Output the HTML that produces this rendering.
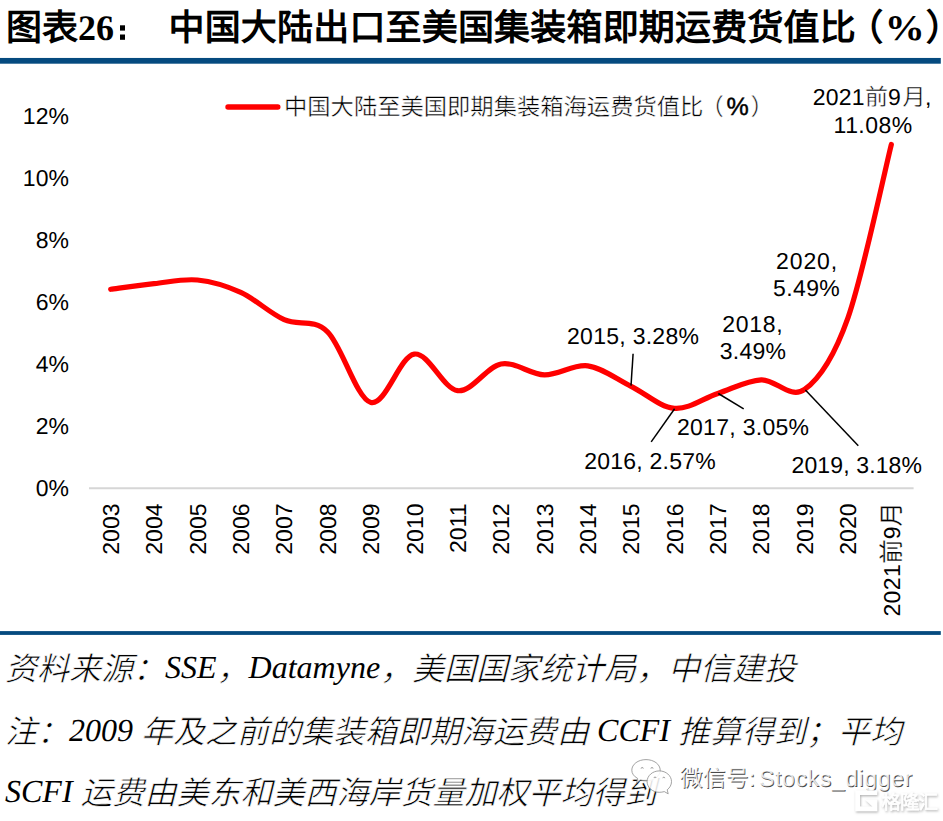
<!DOCTYPE html>
<html lang="zh-CN">
<head>
<meta charset="utf-8">
<style>
html,body{margin:0;padding:0;background:#fff;font-family:"Liberation Sans",sans-serif;}
body{width:943px;height:821px;overflow:hidden;position:relative;}
svg{position:absolute;left:0;top:0;}
.s{font-family:"Liberation Sans",sans-serif;}
.r{font-family:"Liberation Serif",serif;}
.c{stroke:#fff;stroke-width:0.65px;baseline-shift:-1.5px;}
</style>
</head>
<body>
<svg text-rendering="geometricPrecision" width="943" height="821" viewBox="0 0 943 821">
<!-- title -->
<g class="s" font-weight="bold" font-size="36" fill="#000">
<text x="6" y="40">图表<tspan class="r">26</tspan></text>
<rect x="120" y="25.3" width="5" height="5.3"/><rect x="120" y="34.5" width="5" height="5.3"/>
<text x="168.5" y="40" letter-spacing="0.18">中国大陆出口至美国集装箱即期运费货值比</text>
<text x="847.3" y="40">（</text>
<text class="r" transform="translate(884.8,40) scale(1.11,1)">%</text>
<text x="925.7" y="40">）</text>
</g>
<rect x="0" y="57.95" width="940.8" height="5.75" fill="#054a7f"/>
<rect x="0" y="631.1" width="940.8" height="3.8" fill="#054a7f"/>

<!-- axis -->
<line x1="89" y1="488.2" x2="913.6" y2="488.2" stroke="#d6d6d6" stroke-width="2"/>

<g class="s" font-size="23" fill="#000" text-anchor="end">
<text x="68.9" y="124">12%</text>
<text x="68.9" y="186">10%</text>
<text x="68.9" y="248">8%</text>
<text x="68.9" y="310">6%</text>
<text x="68.9" y="372">4%</text>
<text x="68.9" y="434">2%</text>
<text x="68.9" y="496">0%</text>
</g>

<g class="s" font-size="23" fill="#000" text-anchor="end">
<text transform="translate(118.9,503.5) rotate(-90)">2003</text>
<text transform="translate(162.3,503.5) rotate(-90)">2004</text>
<text transform="translate(205.6,503.5) rotate(-90)">2005</text>
<text transform="translate(249.0,503.5) rotate(-90)">2006</text>
<text transform="translate(292.4,503.5) rotate(-90)">2007</text>
<text transform="translate(335.7,503.5) rotate(-90)">2008</text>
<text transform="translate(379.1,503.5) rotate(-90)">2009</text>
<text transform="translate(422.5,503.5) rotate(-90)">2010</text>
<text transform="translate(465.8,503.5) rotate(-90)">2011</text>
<text transform="translate(509.2,503.5) rotate(-90)">2012</text>
<text transform="translate(552.6,503.5) rotate(-90)">2013</text>
<text transform="translate(595.9,503.5) rotate(-90)">2014</text>
<text transform="translate(639.3,503.5) rotate(-90)">2015</text>
<text transform="translate(682.7,503.5) rotate(-90)">2016</text>
<text transform="translate(726.0,503.5) rotate(-90)">2017</text>
<text transform="translate(769.4,503.5) rotate(-90)">2018</text>
<text transform="translate(812.8,503.5) rotate(-90)">2019</text>
<text transform="translate(856.1,503.5) rotate(-90)">2020</text>
<text transform="translate(899.5,502) rotate(-90)"><tspan letter-spacing="0.4">2021</tspan><tspan font-size="24.5" stroke="#fff" stroke-width="0.25">前</tspan>9<tspan font-size="24.5" stroke="#fff" stroke-width="0.25">月</tspan></text>
</g>

<!-- legend -->
<line x1="228" y1="107" x2="277.8" y2="107" stroke="#ff0000" stroke-width="5.4" stroke-linecap="round"/>
<text class="s" x="284" y="114.8" font-size="23.3" fill="#000" stroke="#fff" stroke-width="0.45">中国大陆至美国即期集装箱海运费货值比</text><text class="s" x="700.6" y="114.8" font-size="23.3" stroke="#fff" stroke-width="0.45">（</text><text class="s" x="726.4" y="115" font-size="25" stroke="#000" stroke-width="0.45">%</text><text class="s" x="750.5" y="114.8" font-size="23.3" stroke="#fff" stroke-width="0.45">）</text>

<!-- series -->
<path fill="none" stroke="#ff0000" stroke-width="5.2" stroke-linecap="round" stroke-linejoin="round" d="M110.68,289.29 C117.91,288.36 139.60,285.26 154.05,283.71 C168.51,282.16 182.96,278.54 197.42,279.99 C211.88,281.44 226.33,285.78 240.79,292.39 C255.25,299.00 269.70,313.11 284.16,319.67 C298.61,326.23 313.07,317.96 327.53,331.76 C341.98,345.56 356.44,398.72 370.89,402.44 C385.35,406.16 399.81,356.04 414.26,354.08 C428.72,352.12 443.18,389.01 457.63,390.66 C472.09,392.31 486.54,366.63 501.00,364.00 C515.46,361.37 529.91,374.54 544.37,374.85 C558.82,375.16 573.28,363.95 587.74,365.86 C602.19,367.77 616.65,379.24 631.11,386.32 C645.56,393.40 660.02,407.14 674.47,408.33 C688.93,409.52 703.39,398.20 717.84,393.45 C732.30,388.70 746.75,380.48 761.21,379.81 C775.67,379.14 790.12,399.75 804.58,389.42 C819.04,379.09 833.49,358.63 847.95,317.81 C862.40,276.99 884.09,173.40 891.32,144.52"/>

<!-- leader lines -->
<g stroke="#000" stroke-width="1.5" fill="none">
<line x1="633.1" y1="353.8" x2="631" y2="385.6"/>
<line x1="674.6" y1="408.8" x2="651.2" y2="441.9"/>
<line x1="718.3" y1="393.5" x2="743.7" y2="408.8"/>
<line x1="805.4" y1="390.1" x2="858.3" y2="445.7"/>
</g>

<!-- data labels -->
<g class="s" font-size="23" fill="#000">
<text x="567" y="344" letter-spacing="0.28">2015, 3.28%</text>
<text x="584.2" y="468.6" letter-spacing="0.23">2016, 2.57%</text>
<text x="676.9" y="435.3" letter-spacing="0.3">2017, 3.05%</text>
<text x="722.3" y="331.6" letter-spacing="0.7">2018,</text>
<text x="719.8" y="358.8" letter-spacing="0.25">3.49%</text>
<text x="791.5" y="472.5" letter-spacing="0.13">2019, 3.18%</text>
<text x="776.1" y="269.2" letter-spacing="0.85">2020,</text>
<text x="773" y="296" letter-spacing="0.4">5.49%</text>
<text y="105"><tspan x="812.7" letter-spacing="0.2">2021</tspan><tspan x="864.9" stroke="#fff" stroke-width="0.45">前</tspan><tspan x="887.9">9</tspan><tspan x="902.6" stroke="#fff" stroke-width="0.45">月</tspan><tspan x="924.9">,</tspan></text>
<text x="833.6" y="132.9" letter-spacing="0.45">11.08%</text>
</g>

<!-- footnotes -->
<g font-size="32" font-style="italic" fill="#000" class="r">
<text x="5" y="678.2"><tspan class="c">资料来源：</tspan>SSE<tspan class="c">，</tspan>Datamyne<tspan class="c">，美国国家统计局，中信建投</tspan></text>
<text x="5" y="741.4"><tspan class="c">注：</tspan>2009 <tspan class="c">年及之前的集装箱即期海运费由</tspan> CCFI <tspan class="c">推算得到；平均</tspan></text>
<text x="5" y="802.4">SCFI <tspan class="c">运费由美东和美西海岸货量加权平均得到</tspan></text>
</g>

<!-- watermark -->
<defs>
<filter id="ds" x="-20%" y="-20%" width="140%" height="150%">
<feDropShadow dx="0.8" dy="1.3" stdDeviation="1.1" flood-color="#9a9a9a" flood-opacity="0.75"/>
</filter>
</defs>
<g>
<path d="M646,759.6 C653.9,759.6 660.2,764.3 660.2,770.2 C660.2,776.1 653.9,780.8 646,780.8 C644,780.8 642.2,780.5 640.6,780 L636.6,782.8 L637.6,778.4 C634,776.5 631.8,773.5 631.8,770.2 C631.8,764.3 638.1,759.6 646,759.6 Z" fill="#fff" fill-opacity="0.88" stroke="#8c8c8c" stroke-width="0.8"/>
<path d="M641.1,768.6 a1.1,1.1 0 0 1 2.2,0 M650.9,768.6 a1.1,1.1 0 0 1 2.2,0" fill="none" stroke="#777" stroke-width="0.7"/>
<path d="M659.3,770.9 C666,770.9 671.5,775.7 671.5,781.6 C671.5,784.9 669.8,787.8 667.2,789.8 L668.2,793.8 L664.3,791.6 C662.7,792.1 661,792.3 659.3,792.3 C652.6,792.3 647.1,787.5 647.1,781.6 C647.1,775.7 652.6,770.9 659.3,770.9 Z" fill="#fff" fill-opacity="0.88" stroke="#8c8c8c" stroke-width="0.8"/>
<path d="M654,778 a1,1 0 0 1 2,0 M662.8,778.2 a1,1 0 0 1 2,0" fill="none" stroke="#777" stroke-width="0.7"/>
<text class="s" x="680.6" y="786.6" font-size="23" fill="#4a4a4a">微信号: <tspan dx="-2.6" letter-spacing="0.62">Stocks_digger</tspan></text>
<text class="s" x="679.8" y="785.8" font-size="23" fill="#fff" fill-opacity="0.85">微信号: <tspan dx="-2.6" letter-spacing="0.62">Stocks_digger</tspan></text>
<g filter="url(#ds)">
<path d="M877.2,792.7 H857.6 V808.9 H874.8 V801" fill="none" stroke="#fff" stroke-width="4.8" stroke-linejoin="miter"/>
<path d="M865,799.5 H877.2 V811.3 Z" fill="#fff"/>
<text class="s" x="881.5" y="808.8" font-size="19.5" fill="#fff" stroke="#fff" stroke-width="0.6" letter-spacing="-1">格隆汇</text>
</g>
</g>
</svg>
</body>
</html>
